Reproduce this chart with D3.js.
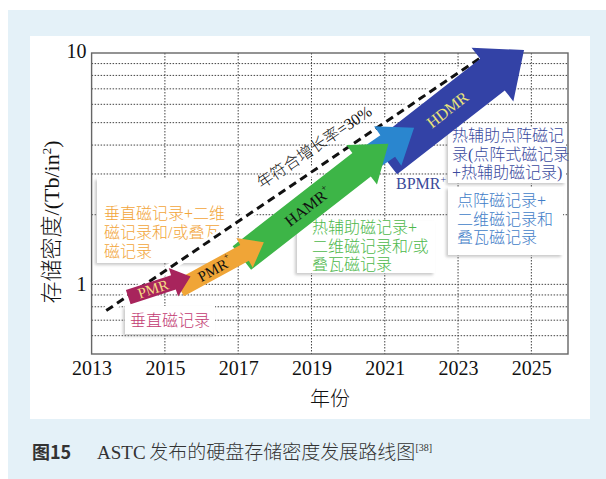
<!DOCTYPE html>
<html><head><meta charset="utf-8">
<script src="https://cdn.jsdelivr.net/npm/d3@7"></script>
<style>body{margin:0;background:#fff}svg{display:block}</style>
</head><body><svg id="c" width="606" height="479"></svg>
<script>
// ---- data ----
const yearTicks = [2013, 2015, 2017, 2019, 2021, 2023, 2025];
const yTickValues = [1, 10];
const gridValues = [0.6, 0.7, 0.8, 0.9, 1, 2, 3, 4, 5, 6, 7, 8, 9];
const arrowNames = ["HDMR", "BPMR+", "HAMR+", "PMR+", "PMR"];
const arrowStartYear = [2021.0, 2020.1, 2017.1, 2015.4, 2014.0];
const arrowStartValue = [3.5, 3.1, 1.3, 0.96, 0.88];
const arrowEndYear = [2024.8, 2021.8, 2021.1, 2017.7, 2015.7];
const arrowEndValue = [10.3, 4.75, 4.05, 1.52, 1.08];
const trendYear = [2013.4, 2023.6];
const trendValue = [0.77, 9.5];
const trendLabel = "年符合增长率=30%";

// ---- styles ----
const arrowStyle = {
  "HDMR":  {fill: "#3342A6", sw: 40, hw: 68, hl: 40, label: "HDMR", sup: "", color: "#E9E27A", t: 0.45, fs: 16},
  "BPMR+": {fill: "#2A86CF", sw: 26, hw: 48, hl: 32, label: null},
  "HAMR+": {fill: "#3DB547", sw: 30, hw: 50, hl: 34, label: "HAMR", sup: "+", color: "#111", t: 0.45, fs: 16},
  "PMR+":  {fill: "#F0A537", sw: 18, hw: 34, hl: 22, label: "PMR", sup: "+", color: "#111", t: 0.42, fs: 15},
  "PMR":   {fill: "#A8245C", sw: 15, hw: 30, hl: 18, label: "PMR", sup: "", color: "#F3DA84", t: 0.4, fs: 15}
};
const serif = "'Liberation Serif','Noto Sans CJK SC',serif";
const cjk = "'Liberation Serif','Noto Sans CJK SC',sans-serif";
const cjkW = 300;

const L = 91.6, R = 568, T = 53, B = 354;
const x = d3.scaleLinear().domain([2013, 2026]).range([L, R]);
const y = d3.scaleLog().domain([0.5, 10]).range([B, T]);

const svg = d3.select("#c");
svg.append("rect").attr("x", 8).attr("y", 10).attr("width", 598).attr("height", 469).attr("fill", "#E4F1F8");
svg.append("rect").attr("x", 30).attr("y", 36).attr("width", 560).attr("height", 383).attr("fill", "#fff");

const defs = svg.append("defs");
const f = defs.append("filter").attr("id", "sh").attr("x", "-20%").attr("y", "-20%").attr("width", "140%").attr("height", "140%");
f.append("feDropShadow").attr("dx", -2).attr("dy", 2).attr("stdDeviation", 1.5).attr("flood-color", "#888").attr("flood-opacity", 0.45);

// grid
const g = svg.append("g");
g.selectAll(".hg").data(gridValues).join("line")
  .attr("x1", L).attr("x2", R).attr("y1", d => y(d)).attr("y2", d => y(d))
  .attr("stroke", "#444").attr("stroke-width", 1).attr("stroke-dasharray", "1.5,1.5");
g.selectAll(".vg").data(yearTicks.slice(1)).join("line")
  .attr("x1", d => x(d)).attr("x2", d => x(d)).attr("y1", T).attr("y2", B)
  .attr("stroke", "#444").attr("stroke-width", 1).attr("stroke-dasharray", "1.5,1.5");

// axes
const xa = svg.append("g").attr("transform", `translate(0,${B})`)
  .call(d3.axisBottom(x).tickValues(yearTicks).tickFormat(d3.format("d")).tickSize(0).tickPadding(7));
xa.select(".domain").remove();
xa.selectAll("text").attr("font-family", serif).attr("font-size", 20).attr("fill", "#111");
const ya = svg.append("g").attr("transform", `translate(${L},0)`)
  .call(d3.axisLeft(y).tickValues(yTickValues).tickFormat(d3.format("d")).tickSize(0).tickPadding(5));
ya.select(".domain").remove();
ya.selectAll("text").attr("font-family", serif).attr("font-size", 20).attr("fill", "#111")
  .attr("dy", d => d === 10 ? "0.2em" : "0.32em");

svg.append("rect").attr("x", L).attr("y", T).attr("width", R - L).attr("height", B - T)
  .attr("fill", "none").attr("stroke", "#666").attr("stroke-width", 1.4);

// annotation boxes
const boxes = [
  {x: 97, y: 178, w: 138, h: 85, color: "#F2A53A", lines: ["垂直磁记录+二维", "磁记录和/或叠瓦", "磁记录"], tx: 104, ty: 219, lh: 19},
  {x: 125, y: 306, w: 90, h: 28, color: "#C23A72", lines: ["垂直磁记录"], tx: 130, ty: 326, lh: 19},
  {x: 297, y: 221, w: 138, h: 52, color: "#4DB84B", lines: ["热辅助磁记录+", "二维磁记录和/或", "叠瓦磁记录"], tx: 312, ty: 233, lh: 18.5},
  {x: 448, y: 127, w: 118, h: 56, color: "#3A4A9E", lines: ["热辅助点阵磁记", "录(点阵式磁记录", "+热辅助磁记录)"], tx: 452, ty: 141, lh: 18.5},
  {x: 448, y: 187, w: 115, h: 68, color: "#3F7DC8", lines: ["点阵磁记录+", "二维磁记录和", "叠瓦磁记录"], tx: 457, ty: 206, lh: 18.5}
];
const bg = svg.append("g");
boxes.forEach(b => {
  bg.append("rect").attr("x", b.x).attr("y", b.y).attr("width", b.w).attr("height", b.h)
    .attr("fill", "#fff").attr("filter", "url(#sh)");
  const t = bg.append("text").attr("font-family", cjk).attr("font-weight", cjkW).attr("font-size", 16).attr("fill", b.color);
  b.lines.forEach((ln, i) => t.append("tspan").attr("x", b.tx).attr("y", b.ty + i * b.lh).text(ln));
});

// trend line
const tp = trendYear.map((d, i) => [x(d), y(trendValue[i])]);
svg.append("line").attr("x1", tp[0][0]).attr("y1", tp[0][1]).attr("x2", tp[1][0]).attr("y2", tp[1][1])
  .attr("stroke", "#fff").attr("stroke-width", 8);
svg.append("line").attr("x1", tp[0][0]).attr("y1", tp[0][1]).attr("x2", tp[1][0]).attr("y2", tp[1][1])
  .attr("stroke", "#111").attr("stroke-width", 3).attr("stroke-dasharray", "8,5");
const tang = Math.atan2(tp[1][1] - tp[0][1], tp[1][0] - tp[0][0]);
{
  const t = 0.585, off = 19;
  const cx = tp[0][0] + (tp[1][0] - tp[0][0]) * t + Math.sin(tang) * off;
  const cy = tp[0][1] + (tp[1][1] - tp[0][1]) * t - Math.cos(tang) * off;
  svg.append("text").attr("transform", `translate(${cx},${cy}) rotate(${tang * 180 / Math.PI})`)
    .attr("text-anchor", "middle").attr("dominant-baseline", "central")
    .attr("font-family", cjk).attr("font-weight", cjkW).attr("font-size", 16).attr("fill", "#111").text(trendLabel);
}

// arrows
function arrowPath(x0, y0, x1, y1, sw, hw, hl) {
  const dx = x1 - x0, dy = y1 - y0, len = Math.hypot(dx, dy);
  const ux = dx / len, uy = dy / len, nx = -uy, ny = ux;
  const bx = x1 - ux * hl, by = y1 - uy * hl;
  const p = [
    [x0 + nx * sw / 2, y0 + ny * sw / 2], [bx + nx * sw / 2, by + ny * sw / 2],
    [bx + nx * hw / 2, by + ny * hw / 2], [x1, y1],
    [bx - nx * hw / 2, by - ny * hw / 2], [bx - nx * sw / 2, by - ny * sw / 2],
    [x0 - nx * sw / 2, y0 - ny * sw / 2]
  ];
  return "M" + p.map(q => q.join(",")).join("L") + "Z";
}
const ag = svg.append("g");
arrowNames.forEach((n, i) => {
  const s = arrowStyle[n];
  const x0 = x(arrowStartYear[i]), y0 = y(arrowStartValue[i]);
  const x1 = x(arrowEndYear[i]), y1 = y(arrowEndValue[i]);
  ag.append("path").attr("d", arrowPath(x0, y0, x1, y1, s.sw, s.hw, s.hl)).attr("fill", s.fill);
  if (s.label) {
    const a = Math.atan2(y1 - y0, x1 - x0) * 180 / Math.PI;
    const cx = x0 + (x1 - x0) * s.t, cy = y0 + (y1 - y0) * s.t;
    const t = ag.append("text").attr("transform", `translate(${cx},${cy}) rotate(${a})`)
      .attr("text-anchor", "middle").attr("dominant-baseline", "central")
      .attr("font-family", serif).attr("font-size", s.fs).attr("fill", s.color).text(s.label);
    if (s.sup) t.append("tspan").attr("font-size", s.fs * 0.6).attr("dy", -6).text(s.sup);
  }
});

// BPMR+ label
const bl = svg.append("text").attr("x", 396).attr("y", 189).attr("font-family", serif).attr("font-size", 16).attr("fill", "#3A4A9A").text("BPMR");
bl.append("tspan").attr("font-size", 10).attr("dy", -6).text("+");

// axis titles
const yl = svg.append("text").attr("transform", "translate(59,222) rotate(-90)").attr("text-anchor", "middle")
  .attr("font-family", cjk).attr("font-weight", cjkW).attr("font-size", 22).attr("fill", "#111").text("存储密度/(Tb/in");
yl.append("tspan").attr("font-size", 13).attr("dy", -8).text("2");
yl.append("tspan").attr("dy", 8).text(")");
svg.append("text").attr("x", 330).attr("y", 406).attr("text-anchor", "middle")
  .attr("font-family", cjk).attr("font-weight", cjkW).attr("font-size", 20).attr("fill", "#111").text("年份");

// caption
svg.append("text").attr("x", 32).attr("y", 459).attr("font-family", "'Noto Sans CJK SC','Noto Sans',sans-serif")
  .attr("font-weight", "bold").attr("font-size", 18).attr("fill", "#333").text("图15");
const cap = svg.append("text").attr("x", 97).attr("y", 459).attr("font-family", cjk).attr("font-weight", cjkW).attr("font-size", 19).attr("fill", "#333")
  .text("ASTC\u2009发布的硬盘存储密度发展路线图");
cap.append("tspan").attr("font-size", 10).attr("dy", -8).text("[38]");
</script></body></html>
